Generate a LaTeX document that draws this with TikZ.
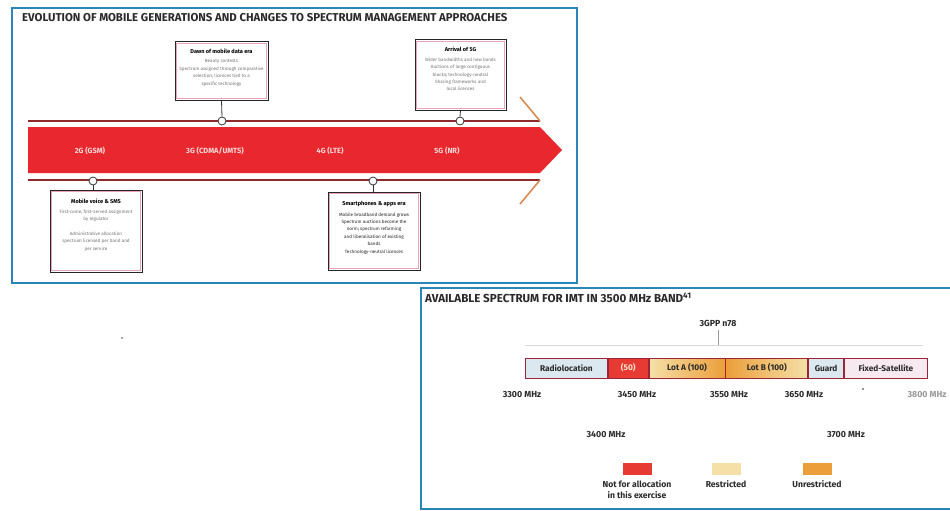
\documentclass[tikz,border=0pt]{standalone}
\usepackage{fontspec}
\setmainfont{Fira Sans}
\usetikzlibrary{calc}
\definecolor{panelblue}{HTML}{2A86B8}
\definecolor{bandred}{HTML}{E8282E}
\definecolor{lineRed}{HTML}{8E2A2E}
\definecolor{diagOr}{HTML}{D98A55}
\definecolor{radioBlue}{HTML}{DCE8EF}
\definecolor{notRed}{HTML}{E63A33}
\definecolor{paleY}{HTML}{F5E0A8}
\definecolor{orangeU}{HTML}{EB9E3A}
\definecolor{fsPink}{HTML}{F6E9EF}
\definecolor{barEdge}{HTML}{9C2438}
\definecolor{txtDark}{HTML}{2A2A2A}
\definecolor{innerPink}{HTML}{E9A3B4}
\tikzset{
  panel/.style={draw=panelblue,line width=2pt},
  callbox/.style={draw=black!85,line width=1pt,fill=white,inner sep=0pt},
  innerline/.style={draw=innerPink,line width=0.6pt},
  pin/.style={circle,draw=black!80,fill=white,line width=0.8pt,minimum size=8pt,inner sep=0pt},
  stem/.style={draw=black!80,line width=0.8pt},
  gen/.style={text=white!85!red,font=\fontsize{7.5}{9}\selectfont\bfseries},
  boxtitle/.style={font=\fontsize{5.6}{7}\selectfont\bfseries,text=black,align=center},
  boxbody/.style={font=\fontsize{4.6}{7.4}\selectfont,text=black!55,align=center},
  seg/.style={draw=barEdge,line width=0.8pt,minimum height=20pt,inner sep=0pt,font=\fontsize{8.3}{9}\selectfont\bfseries,text=txtDark},
  freq/.style={font=\fontsize{8.8}{10}\selectfont\bfseries,text=txtDark},
  swatch/.style={minimum width=29pt,minimum height=12pt,inner sep=0pt},
  legtext/.style={font=\fontsize{8.6}{11}\selectfont\bfseries,text=txtDark,align=center}
}
\begin{document}
\begin{tikzpicture}[x=1pt,y=-1pt]
\useasboundingbox (0,0) rectangle (950,511);
\fill[white] (0,0) rectangle (950,511);

% ---------- top panel ----------
\draw[panel] (12,8) rectangle (577,283);
\node[anchor=west,inner sep=0pt,font=\fontsize{11.4}{13}\selectfont\bfseries,text=txtDark] (t1) at (22,18)
  {EVOLUTION OF MOBILE GENERATIONS AND CHANGES TO SPECTRUM MANAGEMENT APPROACHES};

% arrow band
\fill[bandred] (28,127) -- (540,127) -- (562,150) -- (540,173) -- (28,173) -- cycle;
\coordinate (tl0) at (28,121); \coordinate (tl1) at (540,121); \coordinate (tl2) at (520,97);
\coordinate (bl0) at (28,180); \coordinate (bl1) at (540,180); \coordinate (bl2) at (520,204);
\draw[lineRed,line width=1.3pt] (tl0) -- (tl1);
\draw[lineRed,line width=1.3pt] (bl0) -- (bl1);
\draw[diagOr,line width=1.6pt] (tl1) -- (tl2);
\draw[diagOr,line width=1.6pt] (bl1) -- (bl2);

\node[gen] (g2) at (90,151) {2G (GSM)};
\node[gen] (g3) at (215,151) {3G (CDMA/UMTS)};
\node[gen] (g4) at (330,151) {4G (LTE)};
\node[gen] (g5) at (447,151) {5G (NR)};

% callouts
\node[callbox,minimum width=93pt,minimum height=58pt] (b1) at (221.5,71) {};
\node[callbox,minimum width=91pt,minimum height=70pt] (b2) at (460.5,75) {};
\node[callbox,minimum width=92pt,minimum height=82pt] (b3) at (96,231) {};
\node[callbox,minimum width=92pt,minimum height=78pt] (b4) at (374,231) {};
\foreach \b in {b1,b2,b3,b4}{
  \draw[innerline] ([shift={(2.2,2.2)}]\b.north west) rectangle ([shift={(-2.2,-2.2)}]\b.south east);
}

\node[pin] (p1) at (222,121) {};
\node[pin] (p2) at (460,121) {};
\node[pin] (p3) at (93,181) {};
\node[pin] (p4) at (373,181) {};
\draw[stem] (b1.south) -- (p1.north);
\draw[stem] (b2.south) -- (p2.north);
\draw[stem] (p3.south) -- (b3.north -| p3.south);
\draw[stem] (p4.south) -- (b4.north -| p4.south);

\node[boxtitle,anchor=north] (b1t) at ([yshift=-4pt]b1.north) {Dawn of mobile data era};
\node[boxbody,anchor=north] (b1b) at ([yshift=1pt]b1t.south)
  {Beauty contests\\Spectrum assigned through comparative\\selection; licences tied to a\\specific technology};
\node[boxtitle,anchor=north] (b2t) at ([yshift=-4pt]b2.north) {Arrival of 5G};
\node[boxbody,anchor=north] (b2b) at ([yshift=1pt]b2t.south)
  {Wider bandwidths and new bands\\Auctions of large contiguous\\blocks; technology-neutral\\Sharing frameworks and\\local licences};
\node[boxtitle,anchor=north] (b3t) at ([yshift=-6pt]b3.north) {Mobile voice \& SMS};
\node[boxbody,anchor=north] (b3b) at ([yshift=1pt]b3t.south)
  {First-come, first-served assignment\\by regulator\\\\Administrative allocation\\spectrum licensed per band and\\per service};
\node[boxtitle,anchor=north] (b4t) at ([yshift=-6pt]b4.north) {Smartphones \& apps era};
\node[boxbody,anchor=north,text=black!85] (b4b) at ([yshift=1pt]b4t.south)
  {Mobile broadband demand grows\\Spectrum auctions become the\\norm; spectrum refarming\\and liberalisation of existing\\bands\\Technology-neutral licences};

% ---------- bottom panel ----------
\draw[panel] (952,288) -- (421,288) -- (421,509) -- (952,509);
\node[anchor=west,inner sep=0pt,font=\fontsize{11.6}{13}\selectfont\bfseries,text=txtDark] (t2) at (425,298)
  {AVAILABLE SPECTRUM FOR IMT IN 3500 MHz BAND\textsuperscript{41}};

\node[font=\fontsize{8.8}{10}\selectfont\bfseries,text=txtDark] (n78) at (718,323) {3GPP n78};
\coordinate (n78a) at (718,345);
\draw[black!40,line width=0.5pt] (n78.south) -- (n78a);
\coordinate (gl0) at (525,345); \coordinate (gl1) at (923,345);
\draw[black!15,line width=0.6pt] (gl0) -- (gl1);

% spectrum bar segments
\node[seg,fill=radioBlue,minimum width=82pt,anchor=west] (s1) at (525,368) {Radiolocation};
\node[seg,fill=notRed,minimum width=40pt,anchor=west,text=white!80!orange] (s2) at (s1.east) {(50)};
\node[seg,left color=paleY,right color=orangeU,minimum width=76pt,anchor=west] (s3) at (s2.east) {Lot A (100)};
\node[seg,left color=orangeU,right color=paleY,minimum width=82pt,anchor=west] (s4) at (s3.east) {Lot B (100)};
\node[seg,fill=radioBlue,minimum width=35pt,anchor=west] (s5) at (s4.east) {Guard};
\node[seg,fill=fsPink,minimum width=83pt,anchor=west] (s6) at (s5.east) {Fixed-Satellite};

\node[freq] (f1) at (522,395) {3300 MHz};
\node[freq] (f2) at (637,395) {3450 MHz};
\node[freq] (f3) at (729,395) {3550 MHz};
\node[freq] (f4) at (804,395) {3650 MHz};
\node[freq,text=black!40] (f5) at (927,395) {3800 MHz};
\fill[txtDark] (863,389) circle (0.9pt);
\node[freq] (f6) at (606,435) {3400 MHz};
\node[freq] (f7) at (846,435) {3700 MHz};

% legend
\node[swatch,fill=notRed] (l1) at (637,469) {};
\node[swatch,fill=paleY] (l2) at (726,469) {};
\node[swatch,fill=orangeU] (l3) at (817,469) {};
\node[legtext,anchor=north] (l1t) at ([yshift=-2pt]l1.south) {Not for allocation\\in this exercise};
\node[legtext,anchor=north] (l2t) at ([yshift=-2pt]l2.south) {Restricted};
\node[legtext,anchor=north] (l3t) at ([yshift=-2pt]l3.south) {Unrestricted};

\fill[black!70] (122,338) circle (0.8pt);
\end{tikzpicture}
\end{document}
